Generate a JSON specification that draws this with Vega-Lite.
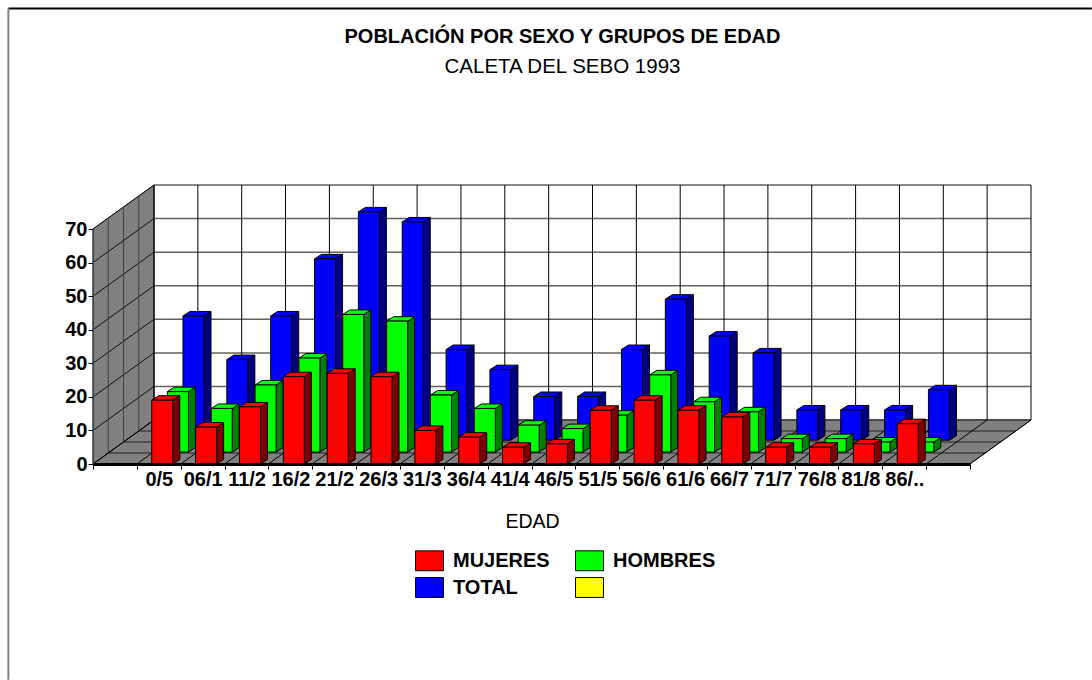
{"$schema":"https://vega.github.io/schema/vega-lite/v6.json","width":877,"height":235,"autosize":{"type":"none"},"padding":{"left":93,"top":229,"right":122,"bottom":216},"background":"white","title":{"text":"POBLACIÓN POR SEXO Y GRUPOS DE EDAD","subtitle":"CALETA DEL SEBO 1993","anchor":"middle","frame":"group","dx":31,"offset":-70,"font":"Liberation Sans","fontSize":20,"fontWeight":"bold","color":"black","subtitleFont":"Liberation Sans","subtitleFontSize":20.5,"subtitleColor":"black","subtitlePadding":10},"config":{"view":{"stroke":null}},"datasets":{"barras":[
{"grupo":"0/5","pos":1,"serie":"MUJERES","valor":19},{"grupo":"06/1","pos":2,"serie":"MUJERES","valor":11},{"grupo":"11/2","pos":3,"serie":"MUJERES","valor":17},{"grupo":"16/2","pos":4,"serie":"MUJERES","valor":26},{"grupo":"21/2","pos":5,"serie":"MUJERES","valor":27},{"grupo":"26/3","pos":6,"serie":"MUJERES","valor":26},{"grupo":"31/3","pos":7,"serie":"MUJERES","valor":10},{"grupo":"36/4","pos":8,"serie":"MUJERES","valor":8},{"grupo":"41/4","pos":9,"serie":"MUJERES","valor":5},{"grupo":"46/5","pos":10,"serie":"MUJERES","valor":6},{"grupo":"51/5","pos":11,"serie":"MUJERES","valor":16},{"grupo":"56/6","pos":12,"serie":"MUJERES","valor":19},{"grupo":"61/6","pos":13,"serie":"MUJERES","valor":16},{"grupo":"66/7","pos":14,"serie":"MUJERES","valor":14},{"grupo":"71/7","pos":15,"serie":"MUJERES","valor":5},{"grupo":"76/8","pos":16,"serie":"MUJERES","valor":5},{"grupo":"81/8","pos":17,"serie":"MUJERES","valor":6},{"grupo":"86/..","pos":18,"serie":"MUJERES","valor":12},
{"grupo":"0/5","pos":1,"serie":"HOMBRES","valor":18},{"grupo":"06/1","pos":2,"serie":"HOMBRES","valor":13},{"grupo":"11/2","pos":3,"serie":"HOMBRES","valor":20},{"grupo":"16/2","pos":4,"serie":"HOMBRES","valor":28},{"grupo":"21/2","pos":5,"serie":"HOMBRES","valor":41},{"grupo":"26/3","pos":6,"serie":"HOMBRES","valor":39},{"grupo":"31/3","pos":7,"serie":"HOMBRES","valor":17},{"grupo":"36/4","pos":8,"serie":"HOMBRES","valor":13},{"grupo":"41/4","pos":9,"serie":"HOMBRES","valor":8},{"grupo":"46/5","pos":10,"serie":"HOMBRES","valor":7},{"grupo":"51/5","pos":11,"serie":"HOMBRES","valor":11},{"grupo":"56/6","pos":12,"serie":"HOMBRES","valor":23},{"grupo":"61/6","pos":13,"serie":"HOMBRES","valor":15},{"grupo":"66/7","pos":14,"serie":"HOMBRES","valor":12},{"grupo":"71/7","pos":15,"serie":"HOMBRES","valor":4},{"grupo":"76/8","pos":16,"serie":"HOMBRES","valor":4},{"grupo":"81/8","pos":17,"serie":"HOMBRES","valor":3},{"grupo":"86/..","pos":18,"serie":"HOMBRES","valor":3},
{"grupo":"0/5","pos":1,"serie":"TOTAL","valor":37},{"grupo":"06/1","pos":2,"serie":"TOTAL","valor":24},{"grupo":"11/2","pos":3,"serie":"TOTAL","valor":37},{"grupo":"16/2","pos":4,"serie":"TOTAL","valor":54},{"grupo":"21/2","pos":5,"serie":"TOTAL","valor":68},{"grupo":"26/3","pos":6,"serie":"TOTAL","valor":65},{"grupo":"31/3","pos":7,"serie":"TOTAL","valor":27},{"grupo":"36/4","pos":8,"serie":"TOTAL","valor":21},{"grupo":"41/4","pos":9,"serie":"TOTAL","valor":13},{"grupo":"46/5","pos":10,"serie":"TOTAL","valor":13},{"grupo":"51/5","pos":11,"serie":"TOTAL","valor":27},{"grupo":"56/6","pos":12,"serie":"TOTAL","valor":42},{"grupo":"61/6","pos":13,"serie":"TOTAL","valor":31},{"grupo":"66/7","pos":14,"serie":"TOTAL","valor":26},{"grupo":"71/7","pos":15,"serie":"TOTAL","valor":9},{"grupo":"76/8","pos":16,"serie":"TOTAL","valor":9},{"grupo":"81/8","pos":17,"serie":"TOTAL","valor":9},{"grupo":"86/..","pos":18,"serie":"TOTAL","valor":15}
]},
"layer":[
{"data":{"values":[{"t":0},{"t":1}]},"transform":[{"calculate":"datum.t*1.391","as":"x"},{"calculate":"datum.t*13.1","as":"y"},{"calculate":"70+datum.t*13.1","as":"y2"}],"mark":{"type":"area","orient":"vertical","fill":"#808080","stroke":"#404040","strokeWidth":1},"encoding":{"x":{"field":"x","type":"quantitative","scale":{"domain":[0,20]},"axis":{"tickCount":21,"values":[0,1,2,3,4,5,6,7,8,9,10,11,12,13,14,15,16,17,18,19,20],"zindex":1,"grid":false,"title":"EDAD","titleFont":"Liberation Sans","titleFontSize":19.5,"titleFontWeight":"normal","titleColor":"black","titleX":439,"titleY":48,"labelFont":"Liberation Sans","labelFontSize":20,"labelFontWeight":"bold","labelColor":"black","labelOffset":22,"labelFlush":false,"labelOverlap":false,"labelPadding":0,"tickColor":"black","tickSize":5,"tickWidth":1,"domainColor":"black","domainWidth":3,"labelExpr":"['','0/5','06/1','11/2','16/2','21/2','26/3','31/3','36/4','41/4','46/5','51/5','56/6','61/6','66/7','71/7','76/8','81/8','86/..','',''][datum.value]"}},"y":{"field":"y","type":"quantitative","stack":null,"scale":{"domain":[0,70]},"axis":{"tickCount":8,"values":[0,10,20,30,40,50,60,70],"zindex":1,"grid":false,"title":null,"labelFont":"Liberation Sans","labelFontSize":20,"labelFontWeight":"bold","labelColor":"black","labelPadding":1,"labelOverlap":false,"labelFlush":false,"tickColor":"black","tickSize":5,"tickWidth":1,"domainColor":"#404040","domainWidth":1}},"y2":{"field":"y2"}}},
{"data":{"values":[{"t":0},{"t":1}]},"transform":[{"calculate":"datum.t*1.391","as":"x"},{"calculate":"20+datum.t*1.391","as":"x2"},{"calculate":"datum.t*13.1","as":"y"}],"mark":{"type":"area","orient":"horizontal","fill":"#808080","stroke":"#404040","strokeWidth":1},"encoding":{"y":{"field":"y","type":"quantitative"},"x":{"field":"x","type":"quantitative","stack":null},"x2":{"field":"x2"}}},
{"data":{"values":[{"v":0},{"v":10},{"v":20},{"v":30},{"v":40},{"v":50},{"v":60},{"v":70}]},"transform":[{"calculate":"datum.v+13.1","as":"vb"},{"calculate":"1.391","as":"xb"},{"calculate":"21.391","as":"xe"},{"calculate":"0","as":"x0"}],"layer":[
{"mark":{"type":"rule","color":"#101010","strokeWidth":1},"encoding":{"x":{"field":"x0","type":"quantitative"},"x2":{"field":"xb"},"y":{"field":"v","type":"quantitative"},"y2":{"field":"vb"}}},
{"mark":{"type":"rule","color":"#606060","strokeWidth":1.5},"encoding":{"x":{"field":"xb","type":"quantitative"},"x2":{"field":"xe"},"y":{"field":"vb","type":"quantitative"}}}]},
{"data":{"values":[{"d":0},{"d":1},{"d":2},{"d":3},{"d":4}]},"transform":[{"calculate":"datum.d*0.348","as":"xa"},{"calculate":"20+datum.d*0.348","as":"xe"},{"calculate":"datum.d*3.275","as":"ya"},{"calculate":"70+datum.d*3.275","as":"ye"}],"layer":[
{"mark":{"type":"rule","color":"#404040","strokeWidth":1.5},"encoding":{"x":{"field":"xa","type":"quantitative"},"x2":{"field":"xe"},"y":{"field":"ya","type":"quantitative"}}},
{"mark":{"type":"rule","color":"#404040","strokeWidth":1},"encoding":{"x":{"field":"xa","type":"quantitative"},"y":{"field":"ya","type":"quantitative"},"y2":{"field":"ye"}}}]},
{"data":{"values":[{"c":0},{"c":1},{"c":2},{"c":3},{"c":4},{"c":5},{"c":6},{"c":7},{"c":8},{"c":9},{"c":10},{"c":11},{"c":12},{"c":13},{"c":14},{"c":15},{"c":16},{"c":17},{"c":18},{"c":19},{"c":20}]},"transform":[{"calculate":"datum.c+1.391","as":"xb"},{"calculate":"0","as":"y0"},{"calculate":"13.1","as":"yb"},{"calculate":"83.1","as":"yt"}],"layer":[
{"mark":{"type":"rule","color":"black","strokeWidth":1},"encoding":{"x":{"field":"c","type":"quantitative"},"x2":{"field":"xb"},"y":{"field":"y0","type":"quantitative"},"y2":{"field":"yb"}}},
{"mark":{"type":"rule","color":"black","strokeWidth":1},"encoding":{"x":{"field":"xb","type":"quantitative"},"y":{"field":"yb","type":"quantitative"},"y2":{"field":"yt"}}}]},
{"data":{"values":[{"fx":-1.93,"fx2":22.78,"fy":135.7,"fy2":-64.3}]},"layer":[
{"mark":{"type":"rule","color":"black","strokeWidth":2},"encoding":{"x":{"field":"fx","type":"quantitative"},"x2":{"field":"fx2"},"y":{"field":"fy","type":"quantitative"}}},
{"mark":{"type":"rule","color":"#808080","strokeWidth":2},"encoding":{"x":{"field":"fx","type":"quantitative"},"y":{"field":"fy","type":"quantitative"},"y2":{"field":"fy2"}}}]},
{"data":{"name":"barras"},"transform":[
{"calculate":"indexof(['MUJERES','HOMBRES','TOTAL'],datum.serie)","as":"d"},
{"calculate":"datum.pos+0.34+datum.d*0.356","as":"x0"},{"calculate":"datum.x0+0.479","as":"x1"},{"calculate":"datum.d*3.55","as":"y0"},{"calculate":"datum.y0+datum.valor","as":"y1"}],
"layer":[
{"transform":[{"filter":"datum.d==2"}],"layer":[
{"transform":[{"calculate":"[0,1]","as":"t"},{"flatten":["t"]},{"calculate":"datum.x1+datum.t*0.16","as":"sx"},{"calculate":"datum.y0+datum.t*1.34","as":"sa"},{"calculate":"datum.y1+datum.t*1.34","as":"sb"}],"mark":{"type":"area","orient":"vertical","fill":"#000080","stroke":"black","strokeWidth":1},"encoding":{"detail":{"field":"grupo"},"x":{"field":"sx","type":"quantitative"},"y":{"field":"sa","type":"quantitative","stack":null},"y2":{"field":"sb"}}},
{"transform":[{"calculate":"[0,1]","as":"t"},{"flatten":["t"]},{"calculate":"datum.y1+datum.t*1.34","as":"ty"},{"calculate":"datum.x0+datum.t*0.16","as":"ta"},{"calculate":"datum.x1+datum.t*0.16","as":"tb"}],"mark":{"type":"area","orient":"horizontal","fill":"#0000ff","stroke":"black","strokeWidth":1},"encoding":{"detail":{"field":"grupo"},"y":{"field":"ty","type":"quantitative"},"x":{"field":"ta","type":"quantitative","stack":null},"x2":{"field":"tb"}}},
{"mark":{"type":"rect","stroke":"black","strokeWidth":1},"encoding":{"x":{"field":"x0","type":"quantitative"},"x2":{"field":"x1"},"y":{"field":"y0","type":"quantitative"},"y2":{"field":"y1"},"color":{"field":"serie","type":"nominal","scale":{"domain":["MUJERES","TOTAL","HOMBRES"," "],"range":["#ff0000","#0000ff","#00ff00","#ffff00"]},"legend":{"title":null,"orient":"none","legendX":322,"legendY":317,"columns":2,"columnPadding":23,"rowPadding":0,"symbolType":"M-1,-0.71H1V0.71H-1Z","symbolSize":784,"symbolStrokeColor":"black","symbolStrokeWidth":1,"symbolOpacity":1,"labelFont":"Liberation Sans","labelFontSize":20,"labelFontWeight":"bold","labelColor":"black","labelOffset":9}}}}]},
{"transform":[{"filter":"datum.d==1"}],"layer":[
{"transform":[{"calculate":"[0,1]","as":"t"},{"flatten":["t"]},{"calculate":"datum.x1+datum.t*0.16","as":"sx"},{"calculate":"datum.y0+datum.t*1.34","as":"sa"},{"calculate":"datum.y1+datum.t*1.34","as":"sb"}],"mark":{"type":"area","orient":"vertical","fill":"#008000","stroke":"black","strokeWidth":1},"encoding":{"detail":{"field":"grupo"},"x":{"field":"sx","type":"quantitative"},"y":{"field":"sa","type":"quantitative","stack":null},"y2":{"field":"sb"}}},
{"transform":[{"calculate":"[0,1]","as":"t"},{"flatten":["t"]},{"calculate":"datum.y1+datum.t*1.34","as":"ty"},{"calculate":"datum.x0+datum.t*0.16","as":"ta"},{"calculate":"datum.x1+datum.t*0.16","as":"tb"}],"mark":{"type":"area","orient":"horizontal","fill":"#00ff00","stroke":"black","strokeWidth":1},"encoding":{"detail":{"field":"grupo"},"y":{"field":"ty","type":"quantitative"},"x":{"field":"ta","type":"quantitative","stack":null},"x2":{"field":"tb"}}},
{"mark":{"type":"rect","stroke":"black","strokeWidth":1},"encoding":{"x":{"field":"x0","type":"quantitative"},"x2":{"field":"x1"},"y":{"field":"y0","type":"quantitative"},"y2":{"field":"y1"},"color":{"field":"serie","type":"nominal"}}}]},
{"transform":[{"filter":"datum.d==0"}],"layer":[
{"transform":[{"calculate":"[0,1]","as":"t"},{"flatten":["t"]},{"calculate":"datum.x1+datum.t*0.16","as":"sx"},{"calculate":"datum.y0+datum.t*1.34","as":"sa"},{"calculate":"datum.y1+datum.t*1.34","as":"sb"}],"mark":{"type":"area","orient":"vertical","fill":"#800000","stroke":"black","strokeWidth":1},"encoding":{"detail":{"field":"grupo"},"x":{"field":"sx","type":"quantitative"},"y":{"field":"sa","type":"quantitative","stack":null},"y2":{"field":"sb"}}},
{"transform":[{"calculate":"[0,1]","as":"t"},{"flatten":["t"]},{"calculate":"datum.y1+datum.t*1.34","as":"ty"},{"calculate":"datum.x0+datum.t*0.16","as":"ta"},{"calculate":"datum.x1+datum.t*0.16","as":"tb"}],"mark":{"type":"area","orient":"horizontal","fill":"#ff0000","stroke":"black","strokeWidth":1},"encoding":{"detail":{"field":"grupo"},"y":{"field":"ty","type":"quantitative"},"x":{"field":"ta","type":"quantitative","stack":null},"x2":{"field":"tb"}}},
{"mark":{"type":"rect","stroke":"black","strokeWidth":1},"encoding":{"x":{"field":"x0","type":"quantitative"},"x2":{"field":"x1"},"y":{"field":"y0","type":"quantitative"},"y2":{"field":"y1"},"color":{"field":"serie","type":"nominal"}}}]}
]}
]}
